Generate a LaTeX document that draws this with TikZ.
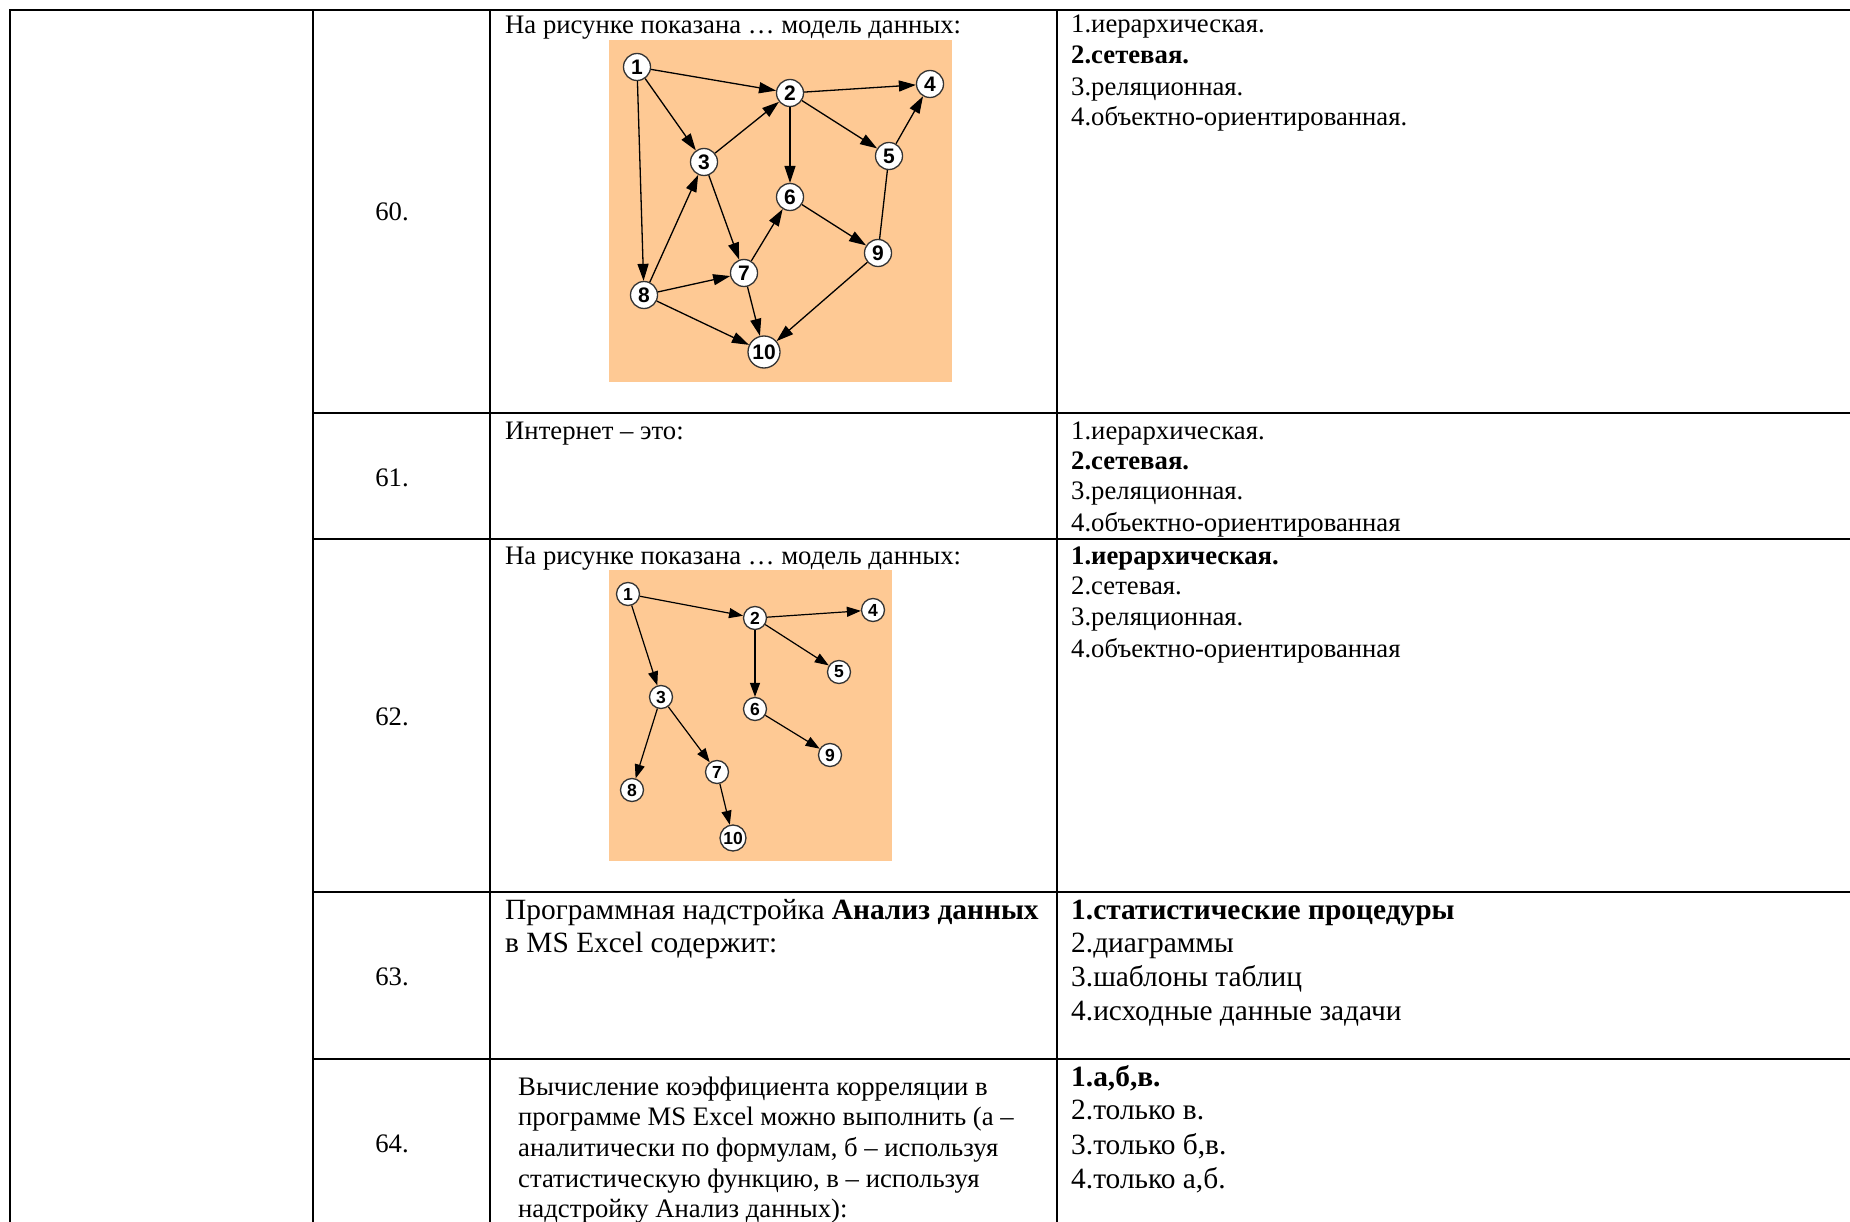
\documentclass[tikz,border=0pt]{standalone}
\usepackage{fontspec}
\setmainfont{Liberation Serif}
\setsansfont{Liberation Sans}
\usetikzlibrary{arrows.meta}
\definecolor{fon}{RGB}{254,201,148}

\begin{document}
\begin{tikzpicture}[x=1pt, y=-1pt]
  \tikzstyle{txt}=[anchor=west, inner sep=0pt, yshift=-6pt, text height=0.7em, text depth=0.25em, font=\fontsize{26.7}{30}\selectfont]
  \tikzstyle{big}=[font=\fontsize{29.4}{33}\selectfont]
  \tikzstyle{num}=[txt, anchor=center]
  \tikzstyle{rule}=[line width=2.2pt]
  \tikzstyle{vtx}=[circle, draw=black!80, fill=white, line width=1.3pt, inner sep=0pt, minimum size=27pt, font=\fontsize{21}{21}\sffamily\bfseries]
  \tikzstyle{vtxs}=[vtx, minimum size=23pt, font=\fontsize{17.5}{17.5}\sffamily\bfseries]
  \tikzstyle{arr}=[-{Triangle[length=17pt,width=11pt]}, line width=1.3pt]
  \tikzstyle{arrs}=[-{Triangle[length=14pt,width=10pt]}, line width=1.2pt]

  \useasboundingbox (0,0) rectangle (1850,1222);

  % Таблица
  \draw[rule] (10,1222) -- (10,10) -- (1850,10);
  \draw[rule] (313,10) -- (313,1222);
  \draw[rule] (490,10) -- (490,1222);
  \draw[rule] (1057,10) -- (1057,1222);
  \draw[rule] (313,413) -- (1850,413);
  \draw[rule] (313,539) -- (1850,539);
  \draw[rule] (313,892) -- (1850,892);
  \draw[rule] (313,1059) -- (1850,1059);

  % Номера вопросов
  \node[num] (n60) at (392,212) {60.};
  \node[num] (n61) at (392,478) {61.};
  \node[num] (n62) at (392,717) {62.};
  \node[num] (n63) at (392,977) {63.};
  \node[num] (n64) at (392,1144) {64.};

  % Вопрос 60
  \node[txt] (q60) at (505,25) {На рисунке показана … модель данных:};
  \fill[fon] (609,40) rectangle (952,382);
  \node[vtx] (a1) at (637,67) {1};
  \node[vtx] (a2) at (790,93) {2};
  \node[vtx] (a3) at (704,162) {3};
  \node[vtx] (a4) at (930,84) {4};
  \node[vtx] (a5) at (889,156) {5};
  \node[vtx] (a6) at (790,197) {6};
  \node[vtx] (a7) at (744,273) {7};
  \node[vtx] (a8) at (644,295) {8};
  \node[vtx] (a9) at (878,253) {9};
  \node[vtx, minimum size=32pt] (a10) at (764,352) {10};
  \draw[arr] (a1) -- (a2);
  \draw[arr] (a1) -- (a3);
  \draw[arr] (a1) -- (a8);
  \draw[arr] (a3) -- (a2);
  \draw[arr] (a2) -- (a4);
  \draw[arr] (a2) -- (a5);
  \draw[arr] (a2) -- (a6);
  \draw[arr] (a5) -- (a4);
  \draw[arr] (a8) -- (a3);
  \draw[arr] (a3) -- (a7);
  \draw[arr] (a8) -- (a7);
  \draw[arr] (a7) -- (a6);
  \draw[arr] (a6) -- (a9);
  \draw[line width=1.3pt] (a9) -- (a5);
  \draw[arr] (a7) -- (a10);
  \draw[arr] (a8) -- (a10);
  \draw[arr] (a9) -- (a10);
  \node[txt] (r60a) at (1071,24) {1.иерархическая.};
  \node[txt] (r60b) at (1071,55) {\bfseries 2.сетевая.};
  \node[txt] (r60c) at (1071,87) {3.реляционная.};
  \node[txt] (r60d) at (1071,117) {4.объектно-ориентированная.};

  % Вопрос 61
  \node[txt] (q61) at (505,431) {Интернет – это:};
  \node[txt] (r61a) at (1071,431) {1.иерархическая.};
  \node[txt] (r61b) at (1071,461) {\bfseries 2.сетевая.};
  \node[txt] (r61c) at (1071,491) {3.реляционная.};
  \node[txt] (r61d) at (1071,523) {4.объектно-ориентированная};

  % Вопрос 62
  \node[txt] (q62) at (505,556) {На рисунке показана … модель данных:};
  \fill[fon] (609,570) rectangle (892,861);
  \node[vtxs] (b1) at (628,594) {1};
  \node[vtxs] (b2) at (755,618) {2};
  \node[vtxs] (b3) at (661,697) {3};
  \node[vtxs] (b4) at (873,610) {4};
  \node[vtxs] (b5) at (839,672) {5};
  \node[vtxs] (b6) at (755,709) {6};
  \node[vtxs] (b7) at (717,772) {7};
  \node[vtxs] (b8) at (632,790) {8};
  \node[vtxs] (b9) at (830,755) {9};
  \node[vtxs, minimum size=26pt] (b10) at (733,838) {10};
  \draw[arrs] (b1) -- (b2);
  \draw[arrs] (b1) -- (b3);
  \draw[arrs] (b2) -- (b4);
  \draw[arrs] (b2) -- (b5);
  \draw[arrs] (b2) -- (b6);
  \draw[arrs] (b3) -- (b8);
  \draw[arrs] (b3) -- (b7);
  \draw[arrs] (b6) -- (b9);
  \draw[arrs] (b7) -- (b10);
  \node[txt] (r62a) at (1071,556) {\bfseries 1.иерархическая.};
  \node[txt] (r62b) at (1071,586) {2.сетевая.};
  \node[txt] (r62c) at (1071,617) {3.реляционная.};
  \node[txt] (r62d) at (1071,649) {4.объектно-ориентированная};

  % Вопрос 63
  \node[txt, big] (q63a) at (505,911) {Программная надстройка \textbf{Анализ данных}};
  \node[txt, big] (q63b) at (505,944) {в MS Excel содержит:};
  \node[txt, big] (r63a) at (1071,911) {\bfseries 1.статистические процедуры};
  \node[txt, big] (r63b) at (1071,944) {2.диаграммы};
  \node[txt, big] (r63c) at (1071,978) {3.шаблоны таблиц};
  \node[txt, big] (r63d) at (1071,1012) {4.исходные данные задачи};

  % Вопрос 64
  \node[txt] (q64a) at (518,1087) {Вычисление коэффициента корреляции в};
  \node[txt] (q64b) at (518,1117) {программе MS Excel можно выполнить (а –};
  \node[txt] (q64c) at (518,1148) {аналитически по формулам, б – используя};
  \node[txt] (q64d) at (518,1179) {статистическую функцию, в – используя};
  \node[txt] (q64e) at (518,1209) {надстройку Анализ данных):};
  \node[txt, big] (r64a) at (1071,1078) {\bfseries 1.а,б,в.};
  \node[txt, big] (r64b) at (1071,1111) {2.только в.};
  \node[txt, big] (r64c) at (1071,1146) {3.только б,в.};
  \node[txt, big] (r64d) at (1071,1180) {4.только а,б.};
\end{tikzpicture}
\end{document}
